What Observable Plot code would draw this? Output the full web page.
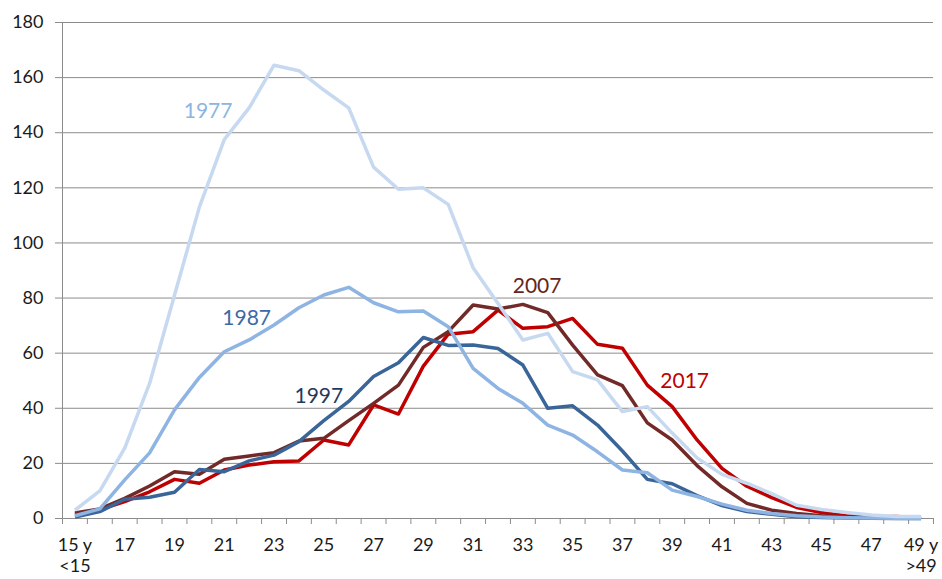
<!DOCTYPE html>
<html>
<head>
<meta charset="utf-8">
<script src="https://cdn.jsdelivr.net/npm/d3@7"></script>
<script src="https://cdn.jsdelivr.net/npm/@observablehq/plot@0.6"></script>
<style>
  html, body { margin: 0; padding: 0; background: #fff; }
  #chart { width: 942px; height: 579px; }
</style>
</head>
<body>
<div id="chart"></div>
<script>
// Ages 15 (incl. <15) .. 49 (incl. >49)
const ages = d3.range(15, 50);

const s1977 = [3, 10, 25.5, 49, 81, 113, 137.5, 149, 164.5, 162.5, 155.5, 149, 127.5, 119.5, 120, 114, 91, 78, 64.8, 67.2, 53.3, 50.3, 38.8, 40.6, 31, 22, 16, 12.8, 9, 4.8, 3.3, 2.2, 1.3, 0.7, 0.7];
const s1987 = [1, 3.5, 14, 23.8, 39.4, 51.2, 60.5, 64.8, 70.2, 76.5, 81.1, 83.9, 78.3, 75, 75.3, 69.6, 54.5, 47.2, 41.8, 33.9, 30.3, 24.2, 17.6, 16.6, 10.3, 8, 5.2, 3, 1.8, 1, 0.5, 0.3, 0.2, 0.1, 0];
const s1997 = [0.5, 2.5, 7, 7.7, 9.5, 17.8, 17, 20.9, 23, 27.9, 35.5, 42.5, 51.5, 56.5, 65.7, 62.8, 63, 61.7, 55.7, 40, 40.9, 33.9, 24.5, 14.2, 12.6, 8.3, 4.7, 2.5, 1.5, 0.6, 0.4, 0.2, 0.1, 0, 0];
const s2007 = [2, 3.5, 7.3, 11.8, 17, 16.1, 21.5, 22.7, 23.9, 28.1, 29.1, 35.5, 41.8, 48.4, 62.1, 67.8, 77.5, 76, 77.7, 74.7, 62.9, 52.1, 48.2, 34.7, 28.5, 19.2, 11.5, 5.5, 3, 1.8, 1, 0.5, 0.3, 0.2, 0.1];
const s2017 = [1.5, 3.2, 6.1, 9.7, 14.2, 12.8, 17.6, 19.4, 20.6, 20.9, 28.5, 26.7, 41.2, 37.9, 55.3, 66.9, 67.8, 75.6, 69, 69.6, 72.6, 63.2, 61.8, 48.4, 40.6, 28.5, 18.2, 11.7, 7.6, 4, 2.2, 1, 0.5, 0.7, 0.3];

const years = ["2017", "2007", "1997", "1987", "1977"];
const seriesValues = [s2017, s2007, s1997, s1987, s1977];
const lineColors = ["#c00000", "#722a28", "#3a6598", "#8db4e2", "#c6d9f1"];

// Series labels: [year, age, value]
const labelYears = ["1977", "1987", "1997", "2007", "2017"];
const labelAges = [20.35, 21.9, 24.8, 33.57, 39.5];
const labelValues = [147.9, 72.8, 44.4, 84.4, 49.9];
const labelColors = ["#8db4e2", "#3d69a6", "#1f3a5f", "#632523", "#c00000"];

const yTicks = [0, 20, 40, 60, 80, 100, 120, 140, 160, 180];
const xLabelAges = d3.range(15, 50, 2);
const xTickLabel = a => a === 15 ? "15 y\n<15" : a === 49 ? "49 y\n>49" : String(a);

const rows = [];
years.forEach((y, i) => seriesValues[i].forEach((v, j) => rows.push({year: y, age: ages[j], value: v})));
const labels = labelYears.map((y, i) => ({year: y, age: labelAges[i], value: labelValues[i], color: labelColors[i]}));

const chart = Plot.plot({
  width: 942,
  height: 579,
  marginLeft: 62,
  marginRight: 9,
  marginTop: 22,
  marginBottom: 61,
  style: {fontFamily: "Lato, 'Open Sans', sans-serif", fontSize: "18px", color: "#1a1a1a", background: "#fff"},
  x: {domain: [14.5, 49.5]},
  y: {domain: [0, 180]},
  color: {domain: years, range: lineColors},
  marks: [
    Plot.ruleY(yTicks.filter(t => t > 0), {stroke: "#8c8c8c", strokeWidth: 1, strokeOpacity: 1}),
    Plot.axisY({ticks: yTicks, tickSize: 7, tickPadding: 12, stroke: "#8c8c8c", fontSize: 18, label: null, fill: "#1a1a1a"}),
    Plot.ruleX([14.5], {stroke: "#8c8c8c", strokeWidth: 1}),
    Plot.axisX({ticks: d3.range(14.5, 50, 1), tickSize: 6, tickFormat: () => "", stroke: "#8c8c8c", label: null}),
    Plot.axisX({ticks: xLabelAges, tickSize: 0, tickPadding: 17, tickFormat: xTickLabel, fontSize: 18, label: null, lineHeight: 1.2, fill: "#1a1a1a"}),
    Plot.ruleY([0], {stroke: "#8c8c8c", strokeWidth: 1}),
    Plot.line(rows, {x: "age", y: "value", z: "year", stroke: "year", strokeWidth: 3.5, strokeLinejoin: "round", strokeLinecap: "butt"}),
    Plot.text(labels, {x: "age", y: "value", text: "year", fill: "color", fontSize: 21})
  ]
});
document.getElementById("chart").appendChild(chart);
</script>
</body>
</html>
